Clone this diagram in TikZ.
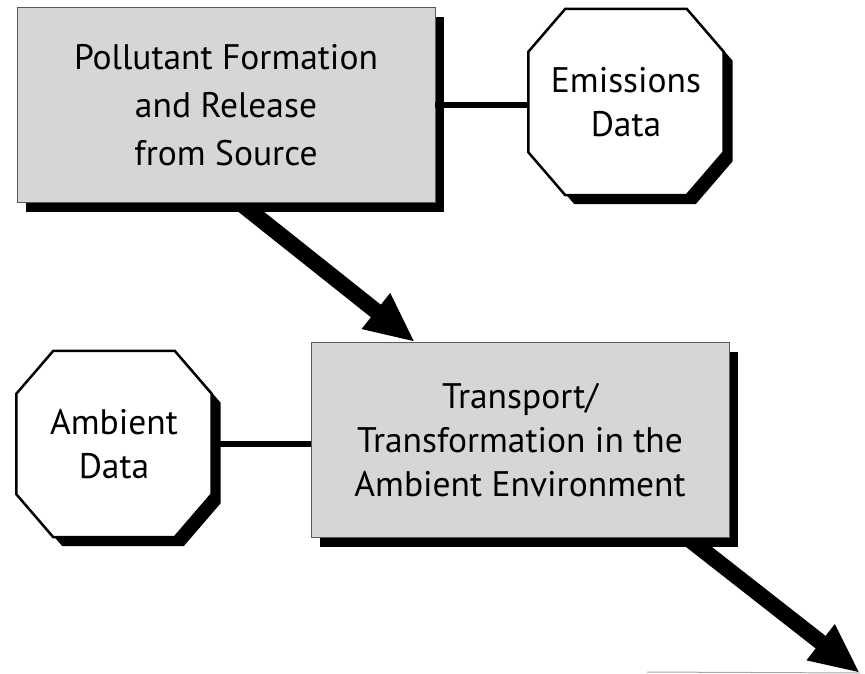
\documentclass[tikz,border=0pt]{standalone}
\usepackage{fontspec}
\setmainfont{PT Sans}
\usetikzlibrary{arrows.meta,shadows,calc,backgrounds}

\begin{document}
\begin{tikzpicture}[x=1pt,y=-1pt,
        font=\fontsize{35.5pt}{44pt}\selectfont,
        blackshadow/.style={drop shadow={shadow xshift=9pt,shadow yshift=-9pt,fill=black,opacity=1}},
        stage/.style={rectangle, draw=black!65, line width=0.8pt, fill=black!16,
            minimum width=418pt, minimum height=195pt, align=center, blackshadow},
        datum/.style={rectangle, minimum width=195pt, minimum height=186pt, inner sep=0pt, align=center},
        octagon/.style={draw=black, line width=2.5pt, fill=white, blackshadow},
        link/.style={line width=5.5pt},
        flow/.style={line width=16pt, -{Triangle[length=50pt,width=42pt]}}
    ]
        \useasboundingbox (0,0) rectangle (865,673);
        % the two stages
        \node[stage, font=\fontsize{35.5pt}{48pt}\selectfont] (source) at (226,105)
            {Pollutant Formation\\and Release\\from Source};
        \node[stage] (ambient) at (520,440)
            {Transport/\\Transformation in the\\Ambient Environment};
        % data that go with them
        \node[datum] (emissions) at (626,102) {Emissions\\Data};
        \node[datum] (ambdata) at (114,444) {Ambient\\Data};
        \begin{scope}[on background layer]
            \foreach \d in {emissions,ambdata} {
                \draw[octagon] ($(\d.north west)+(37,0)$) -- ($(\d.north east)+(-37,0)$)
                    -- ($(\d.north east)+(0,43)$) -- ($(\d.south east)+(0,-43)$)
                    -- ($(\d.south east)+(-37,0)$) -- ($(\d.south west)+(37,0)$)
                    -- ($(\d.south west)+(0,-43)$) -- ($(\d.north west)+(0,43)$) -- cycle;
            }
        \end{scope}
        \draw[link] (source.east) -- (source.east -| emissions.west);
        \draw[link] (ambdata.east) -- (ambdata.east -| ambient.west);
        % big arrows
        \coordinate (out) at (860,673);
        \begin{scope}[on background layer]
            \draw[flow] ([xshift=14pt]source.south) -- ([xshift=-105pt]ambient.north);
            \draw[flow] ([xshift=-42pt]ambient.south east) -- (out);
        \end{scope}
        \draw[black!35, line width=1pt] (647,672) -- (out);
    \end{tikzpicture}
\end{document}
